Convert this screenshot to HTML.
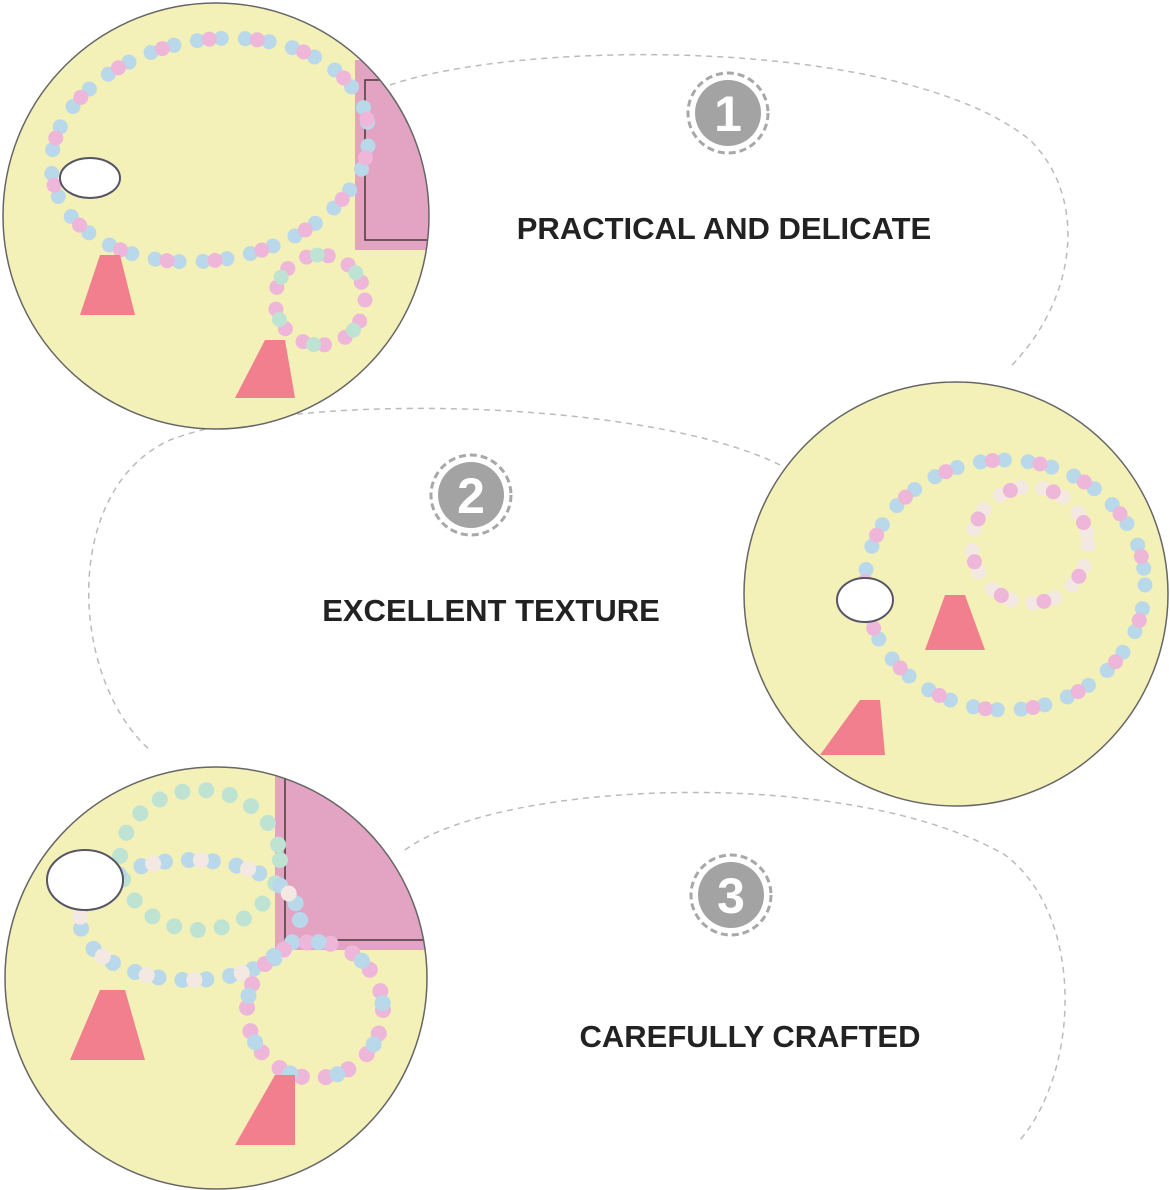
<!DOCTYPE html>
<html><head><meta charset="utf-8"><style>
html,body{margin:0;padding:0;background:#fff;}
svg{display:block}
text{font-family:"Liberation Sans",sans-serif;font-weight:bold;fill:#222}
</style></head><body>
<svg width="1170" height="1190" viewBox="0 0 1170 1190" xmlns="http://www.w3.org/2000/svg">
<defs>
<clipPath id="c1"><circle cx="216" cy="216" r="213"/></clipPath>
<clipPath id="c2"><circle cx="956" cy="594" r="212"/></clipPath>
<clipPath id="c3"><circle cx="216" cy="978" r="211"/></clipPath>
<g id="badge">
<circle r="40" fill="none" stroke="#a8a8a8" stroke-width="3" stroke-dasharray="7 4"/>
<circle r="33" fill="#a3a3a3"/>
</g>
</defs>
<g fill="none" stroke="#bbb" stroke-width="1.5" stroke-dasharray="6 5">
<path d="M390,85 C520,40 900,35 1030,140 C1090,200 1075,300 1012,365"/>
<path d="M780,465 C650,400 300,390 170,440 C60,490 70,680 150,750"/>
<path d="M405,850 C500,780 850,765 1005,855 C1085,915 1080,1070 1020,1140"/>
</g>
<!-- photo 1 -->
<g clip-path="url(#c1)">
<rect x="0" y="0" width="440" height="440" fill="#f3f0b8"/>
<rect x="355" y="60" width="90" height="190" fill="#e3a4c4"/>
<rect x="365" y="80" width="80" height="160" fill="none" stroke="#4a3a3a" stroke-width="1.5"/>
<g fill="none" stroke-width="15" stroke-linecap="round">
<ellipse cx="210" cy="150" rx="160" ry="110" transform="rotate(-10 210 150)" stroke="#b9d8ea" stroke-dasharray="0 24"/>
<ellipse cx="210" cy="150" rx="160" ry="110" transform="rotate(-10 210 150)" stroke="#eeb6d9" stroke-dasharray="0 48" stroke-dashoffset="12"/>
<circle cx="320" cy="300" r="45" stroke="#eeb6d9" stroke-dasharray="0 22"/>
<circle cx="320" cy="300" r="45" stroke="#bfe3d3" stroke-dasharray="0 44" stroke-dashoffset="11"/>
</g>
<polygon points="100,255 120,255 135,315 80,315" fill="#f27f8e"/>
<polygon points="265,340 285,340 295,398 235,398" fill="#f27f8e"/>
<ellipse cx="90" cy="178" rx="30" ry="20" fill="#fff" stroke="#556" stroke-width="2"/>
</g>
<circle cx="216" cy="216" r="213" fill="none" stroke="#666" stroke-width="1.5"/>
<!-- photo 2 -->
<g clip-path="url(#c2)">
<rect x="740" y="380" width="430" height="430" fill="#f3f0b8"/>
<g fill="none" stroke-width="15" stroke-linecap="round">
<ellipse cx="1005" cy="585" rx="140" ry="125" stroke="#b9d8ea" stroke-dasharray="0 24"/>
<ellipse cx="1005" cy="585" rx="140" ry="125" stroke="#eeb6d9" stroke-dasharray="0 48" stroke-dashoffset="12"/>
<circle cx="1030" cy="545" r="58" stroke="#f3e9e2" stroke-dasharray="0 22"/>
<circle cx="1030" cy="545" r="58" stroke="#eeb6d9" stroke-dasharray="0 44" stroke-dashoffset="11"/>
</g>
<polygon points="945,595 965,595 985,650 925,650" fill="#f27f8e"/>
<polygon points="860,700 880,700 885,755 820,755" fill="#f27f8e"/>
<ellipse cx="865" cy="600" rx="28" ry="22" fill="#fff" stroke="#556" stroke-width="2"/>
</g>
<circle cx="956" cy="594" r="212" fill="none" stroke="#666" stroke-width="1.5"/>
<!-- photo 3 -->
<g clip-path="url(#c3)">
<rect x="0" y="765" width="440" height="430" fill="#f3f0b8"/>
<rect x="275" y="765" width="170" height="185" fill="#e3a4c4"/>
<rect x="285" y="775" width="150" height="165" fill="none" stroke="#4a3a3a" stroke-width="1.5"/>
<g fill="none" stroke-width="16" stroke-linecap="round">
<ellipse cx="200" cy="860" rx="80" ry="70" stroke="#bfe3d3" stroke-dasharray="0 24"/>
<ellipse cx="190" cy="920" rx="110" ry="60" stroke="#b9d8ea" stroke-dasharray="0 24"/>
<ellipse cx="190" cy="920" rx="110" ry="60" stroke="#f3e9e2" stroke-dasharray="0 48" stroke-dashoffset="12"/>
<circle cx="315" cy="1010" r="68" stroke="#eeb6d9" stroke-dasharray="0 24"/>
<circle cx="315" cy="1010" r="68" stroke="#b9d8ea" stroke-dasharray="0 48" stroke-dashoffset="12"/>
</g>
<polygon points="100,990 125,990 145,1060 70,1060" fill="#f27f8e"/>
<polygon points="275,1075 295,1075 295,1145 235,1145" fill="#f27f8e"/>
<ellipse cx="85" cy="880" rx="38" ry="30" fill="#fff" stroke="#556" stroke-width="2"/>
</g>
<circle cx="216" cy="978" r="211" fill="none" stroke="#666" stroke-width="1.5"/>
<!-- badges -->
<use href="#badge" x="728" y="113"/>
<use href="#badge" x="471" y="495"/>
<use href="#badge" x="731" y="895"/>
<g style="font-size:50px" text-anchor="middle">
<text x="728" y="131" style="fill:#fff">1</text>
<text x="471" y="513" style="fill:#fff">2</text>
<text x="731" y="913" style="fill:#fff">3</text>
</g>
<g font-size="31" text-anchor="middle">
<text x="724" y="239">PRACTICAL AND DELICATE</text>
<text x="491" y="621">EXCELLENT TEXTURE</text>
<text x="750" y="1047">CAREFULLY CRAFTED</text>
</g>
</svg>
</body></html>
